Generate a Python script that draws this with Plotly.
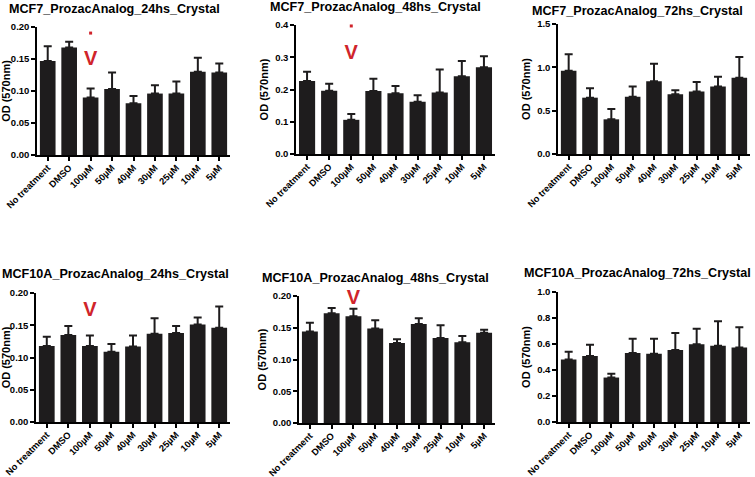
import plotly.graph_objects as go

W, H = 755, 477

categories = ["No treatment", "DMSO", "100µM", "50µM", "40µM", "30µM", "25µM", "10µM", "5µM"]

mcf7_24_mean = [0.147, 0.168, 0.090, 0.103, 0.081, 0.096, 0.096, 0.130, 0.129]
mcf7_24_err = [0.023, 0.009, 0.014, 0.026, 0.011, 0.013, 0.019, 0.022, 0.014]
mcf7_48_mean = [0.226, 0.196, 0.106, 0.195, 0.188, 0.162, 0.191, 0.241, 0.269]
mcf7_48_err = [0.029, 0.022, 0.018, 0.038, 0.023, 0.020, 0.071, 0.047, 0.034]
mcf7_72_mean = [0.96, 0.65, 0.40, 0.66, 0.84, 0.69, 0.72, 0.78, 0.88]
mcf7_72_err = [0.19, 0.11, 0.12, 0.12, 0.20, 0.045, 0.11, 0.11, 0.24]
mcf10a_24_mean = [0.118, 0.135, 0.118, 0.109, 0.117, 0.137, 0.138, 0.151, 0.146]
mcf10a_24_err = [0.014, 0.014, 0.016, 0.012, 0.017, 0.024, 0.011, 0.011, 0.033]
mcf10a_48_mean = [0.144, 0.173, 0.168, 0.149, 0.126, 0.156, 0.134, 0.127, 0.142]
mcf10a_48_err = [0.014, 0.008, 0.012, 0.013, 0.006, 0.009, 0.020, 0.010, 0.005]
mcf10a_72_mean = [0.48, 0.507, 0.342, 0.53, 0.525, 0.553, 0.598, 0.587, 0.574]
mcf10a_72_err = [0.06, 0.088, 0.029, 0.11, 0.115, 0.131, 0.12, 0.188, 0.154]

titles = [
    "MCF7_ProzacAnalog_24hs_Crystal",
    "MCF7_ProzacAnalog_48hs_Crystal",
    "MCF7_ProzacAnalog_72hs_Crystal",
    "MCF10A_ProzacAnalog_24hs_Crystal",
    "MCF10A_ProzacAnalog_48hs_Crystal",
    "MCF10A_ProzacAnalog_72hs_Crystal",
]
y_ranges = [(0, 0.2), (0, 0.4), (0, 1.5), (0, 0.2), (0, 0.2), (0, 1.0)]
y_dticks = [0.05, 0.1, 0.5, 0.05, 0.05, 0.2]
y_formats = [".2f", ".1f", ".1f", ".2f", ".2f", ".1f"]

# significance marks (category, dot value, chevron value) for panels that have them
sig_panels = [0, 1, 3, 4]
sig_category = "100µM"
sig_dot = [0.1905, 0.397, 0.217, 0.212]
sig_chevron = [0.148, 0.31, 0.172, 0.195]

means = [mcf7_24_mean, mcf7_48_mean, mcf7_72_mean, mcf10a_24_mean, mcf10a_48_mean, mcf10a_72_mean]
errs = [mcf7_24_err, mcf7_48_err, mcf7_72_err, mcf10a_24_err, mcf10a_48_err, mcf10a_72_err]

# layout in pixels: (x0, x1, ytop, ybottom)
boxes = [
    (37, 230, 27, 155),
    (296, 495, 25, 154),
    (558, 750, 24, 154),
    (36, 230, 293, 422),
    (299, 495, 296, 423),
    (558, 750, 292, 422),
]
title_pos = [(114, 9), (375, 7), (637, 11), (115, 274), (375, 278), (637, 273)]

FONT = "Liberation Sans, Arial, Helvetica, sans-serif"
BAR = "#1e1c1d"
RED = "#d0242b"

fig = go.Figure()
layout = dict(
    width=W, height=H,
    margin=dict(l=0, r=0, t=0, b=0, autoexpand=False),
    paper_bgcolor="white", plot_bgcolor="white",
    showlegend=False,
    font=dict(family=FONT, color="black"),
    annotations=[],
)

for i in range(6):
    xa = "x" if i == 0 else f"x{i+1}"
    ya = "y" if i == 0 else f"y{i+1}"
    fig.add_trace(go.Bar(
        x=categories, y=means[i], xaxis=xa, yaxis=ya,
        marker=dict(color=BAR, line=dict(width=0)),
        width=0.73,
        error_y=dict(type="data", symmetric=False, array=errs[i],
                     arrayminus=[0] * len(errs[i]),
                     color="#1e1c1d", thickness=2, width=4),
    ))
    x0, x1, yt, yb = boxes[i]
    xkey = "xaxis" if i == 0 else f"xaxis{i+1}"
    ykey = "yaxis" if i == 0 else f"yaxis{i+1}"
    layout[xkey] = dict(
        domain=[x0 / W, x1 / W], anchor=ya, automargin=False,
        range=[-0.5, len(categories) - 0.5],
        showline=True, linecolor="black", linewidth=1.5,
        ticks="outside", ticklen=4, tickwidth=1.5, tickcolor="black",
        ticklabelstandoff=-2,
        tickangle=-45, tickfont=dict(size=9.3, family=FONT, weight="bold"),
        showgrid=False, zeroline=False, fixedrange=True,
    )
    layout[ykey] = dict(
        domain=[1 - yb / H, 1 - yt / H], anchor=xa, automargin=False,
        range=list(y_ranges[i]), dtick=y_dticks[i], tick0=0, tickformat=y_formats[i],
        showline=True, linecolor="black", linewidth=1.5,
        ticks="outside", ticklen=4, tickwidth=1.5, tickcolor="black",
        tickfont=dict(size=9.5, family=FONT, weight="bold"),
        title=dict(text="OD (570nm)", font=dict(size=11, family=FONT, weight="bold"), standoff=4),
        showgrid=False, zeroline=False, fixedrange=True,
    )
    tx, ty = title_pos[i]
    layout["annotations"].append(dict(
        text=titles[i], x=tx / W, y=1 - ty / H, xref="paper", yref="paper",
        xanchor="center", yanchor="middle", showarrow=False,
        font=dict(size=12.6, family=FONT, weight="bold", color="black"),
    ))

for k, p in enumerate(sig_panels):
    xa = "x" if p == 0 else f"x{p+1}"
    ya = "y" if p == 0 else f"y{p+1}"
    fig.add_trace(go.Scatter(
        x=[sig_category], y=[sig_dot[k]], xaxis=xa, yaxis=ya, mode="markers",
        marker=dict(symbol="square", size=3, color=RED), cliponaxis=False,
    ))
    fig.add_trace(go.Scatter(
        x=[sig_category], y=[sig_chevron[k]], xaxis=xa, yaxis=ya, mode="text",
        text=["V"], textposition="middle center",
        textfont=dict(size=20, family=FONT, color=RED, weight="bold"), cliponaxis=False,
    ))

fig.update_layout(**layout)
fig.write_html(
    "out.html",
    config={"displayModeBar": False},
    post_script="document.body.style.margin='0px';document.body.style.overflow='hidden';",
)
